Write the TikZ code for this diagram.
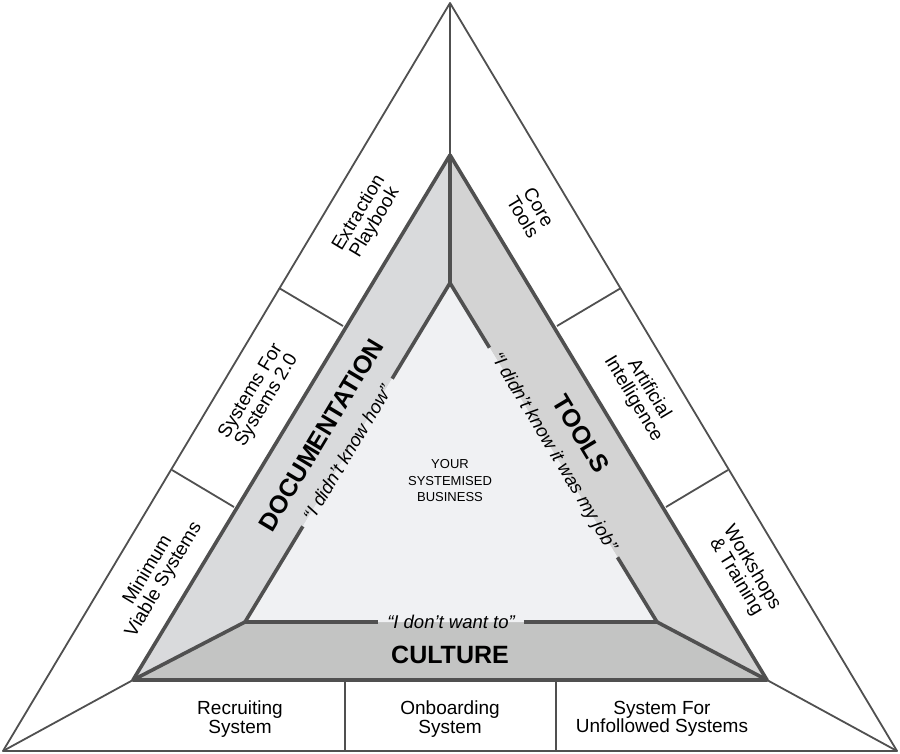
\documentclass[tikz,border=0pt]{standalone}
\usepackage{fontspec}
\setsansfont{Liberation Sans}
\usetikzlibrary{calc}
\definecolor{edgegray}{HTML}{505050}
\definecolor{docfill}{HTML}{D9DADC}
\definecolor{toolfill}{HTML}{D3D3D3}
\definecolor{culturefill}{HTML}{C3C4C3}
\definecolor{corefill}{HTML}{F0F1F3}

\begin{document}
\begin{tikzpicture}[
    x=1pt, y=-1pt,
    font=\sffamily,
    line join=round,
    % Styles
    thinline/.style={
        draw=edgegray,
        line width=1.8pt
    },
    thickline/.style={
        draw=edgegray,
        line width=3.6pt
    },
    sectiontext/.style={
        align=center,
        inner sep=0pt,
        font=\sffamily\fontsize{19}{18.5}\selectfont
    },
    pillartext/.style={
        font=\sffamily\bfseries\fontsize{25}{26}\selectfont
    },
    quotetext/.style={
        font=\sffamily\itshape\fontsize{18.5}{20}\selectfont,
        inner xsep=9pt,
        inner ysep=2pt
    },
    centertext/.style={
        align=center,
        font=\sffamily\fontsize{13}{16.5}\selectfont
    }
]

    \fill[white] (0,0) rectangle (900,754);
    \useasboundingbox (0,0) rectangle (900,754);

    % ================= CORNERS =================
    \coordinate (ot) at (450,3);
    \coordinate (ol) at (3,751);
    \coordinate (or) at (897,751);
    \coordinate (mt) at (450,155);
    \coordinate (ml) at (133,680);
    \coordinate (mr) at (767,680);
    \coordinate (it) at (450,283);
    \coordinate (il) at (245,622);
    \coordinate (ir) at (657,622);

    % ================= BANDS =================
    \fill[docfill] (mt) -- (ml) -- (il) -- (it) -- cycle;
    \fill[toolfill] (mt) -- (it) -- (ir) -- (mr) -- cycle;
    \fill[culturefill] (il) -- (ml) -- (mr) -- (ir) -- cycle;
    \fill[corefill] (it) -- (il) -- (ir) -- cycle;

    % ================= OUTER RING =================
    \draw[thinline] (ot) -- (ol) -- (or) -- cycle;
    \draw[thinline] (ot) -- (mt);
    \draw[thinline] (ol) -- (ml);
    \draw[thinline] (or) -- (mr);

    % Section dividers
    \draw[thinline] (279,288) -- (343,326);
    \draw[thinline] (172,470) -- (234,507);
    \draw[thinline] (621,288) -- (557,326);
    \draw[thinline] (728,470) -- (666,507);
    \draw[thinline] (345,680) -- (345,751);
    \draw[thinline] (556,680) -- (556,751);

    % Left sections
    \node[sectiontext, rotate=59] (extraction) at (367,218) {Extraction\\Playbook};
    \node[sectiontext, rotate=59] (sysforsys) at (259,396) {Systems For\\Systems 2.0};
    \node[sectiontext, rotate=59] (mvs) at (156,575) {Minimum\\Viable Systems};

    % Right sections
    \node[sectiontext, rotate=-59] (coretools) at (531,212) {Core\\Tools};
    \node[sectiontext, rotate=-59] (ai) at (641,394) {Artificial\\Intelligence};
    \node[sectiontext, rotate=-59] (workshops) at (744,572) {Workshops\\\& Training};

    % Bottom sections
    \node[sectiontext] (recruiting) at (240,719) {Recruiting\\System};
    \node[sectiontext] (onboarding) at (450,719) {Onboarding\\System};
    \node[sectiontext] (unfollowed) at (662,719) {System For\\Unfollowed Systems};

    % ================= PILLARS =================
    \draw[thickline] (mt) -- (ml) -- (mr) -- cycle;
    \draw[thickline] (mt) -- (it);
    \draw[thickline] (ml) -- (il);
    \draw[thickline] (mr) -- (ir);

    \node[pillartext, rotate=59] (documentation) at (321,435) {DOCUMENTATION};
    \node[pillartext, rotate=-59] (tools) at (581,434) {TOOLS};
    \node[pillartext] (culture) at (450,655) {CULTURE};

    % Quotes on the inner edges
    \node[quotetext, rotate=59] (qdoc) at ($(il)!0.5!(it)$) {“I didn’t know how”};
    \node[quotetext, rotate=-59] (qtools) at ($(it)!0.5!(ir)$) {“I didn’t know it was my job”};
    \node[quotetext] (qculture) at ($(il)!0.5!(ir)$) {“I don’t want to”};

    \draw[thickline] (it) -- (qdoc);
    \draw[thickline] (qdoc) -- (il);
    \draw[thickline] (it) -- (qtools);
    \draw[thickline] (qtools) -- (ir);
    \draw[thickline] (il) -- (qculture);
    \draw[thickline] (qculture) -- (ir);

    % ================= CENTRE =================
    \node[centertext] (business) at (450,481) {YOUR\\SYSTEMISED\\BUSINESS};

\end{tikzpicture}
\end{document}
